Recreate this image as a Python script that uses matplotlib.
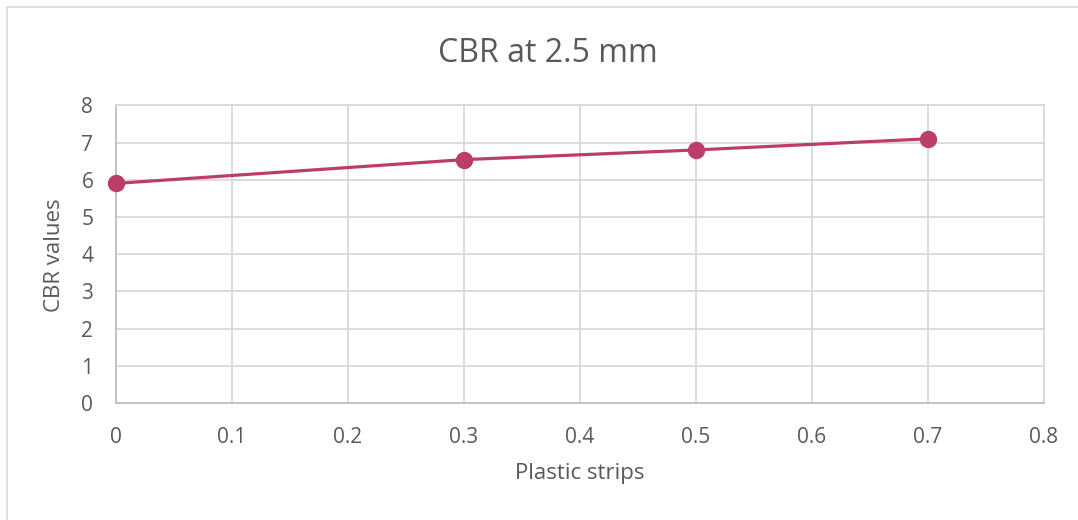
import matplotlib.pyplot as plt
from matplotlib.patches import Rectangle

plt.rcParams['font.family'] = ['Open Sans', 'DejaVu Sans']

# CBR test results at 2.5 mm penetration
strips = [0, 0.3, 0.5, 0.7]
cbr = [5.9, 6.54, 6.8, 7.1]
x_ticks = [0, 0.1, 0.2, 0.3, 0.4, 0.5, 0.6, 0.7, 0.8]
y_ticks = [0, 1, 2, 3, 4, 5, 6, 7, 8]

text_col = '#595959'
grid_col = '#D9D9D9'
line_col = '#BC3D69'

W, H = 1078, 520
fig = plt.figure(figsize=(W / 100, H / 100), dpi=100)
ax = fig.add_axes([0.1072, 0.225, 0.8613, 0.5725])

# outer chart border
fig.patches.append(Rectangle((7 / W, -0.1), 1.2, 1 - 7 / H + 0.1,
                             transform=fig.transFigure, fill=False,
                             edgecolor=grid_col, linewidth=1.2))

ax.plot(strips, cbr, color=line_col, linewidth=2.3, marker='o',
        markersize=11.5, zorder=3, clip_on=False)

ax.set_xlim(0, 0.8)
ax.set_ylim(0, 8)
ax.set_xticks(x_ticks)
ax.set_xticklabels([f'{t:g}' for t in x_ticks])
ax.set_yticks(y_ticks)
ax.grid(True, color=grid_col, linewidth=1.3)
ax.set_axisbelow(True)
for s in ax.spines.values():
    s.set_color(grid_col)
    s.set_linewidth(1.3)
ax.spines['bottom'].set_color('#BFBFBF')
ax.spines['left'].set_color('#BFBFBF')
ax.tick_params(length=0, colors=text_col, labelsize=15)
ax.tick_params(axis='x', pad=17)
ax.tick_params(axis='y', pad=16)

fig.text(547.5 / W, 1 - 62 / H, 'CBR at 2.5 mm', fontsize=23,
         color=text_col, ha='center', va='baseline')
fig.text(580 / W, 1 - 474 / H, 'Plastic strips', fontsize=16,
         color=text_col, ha='center', va='center')
fig.text(55 / W, 1 - 255 / H, 'CBR values', fontsize=16, rotation=90,
         color=text_col, ha='center', va='center')

fig.savefig('out.png', dpi=100)
